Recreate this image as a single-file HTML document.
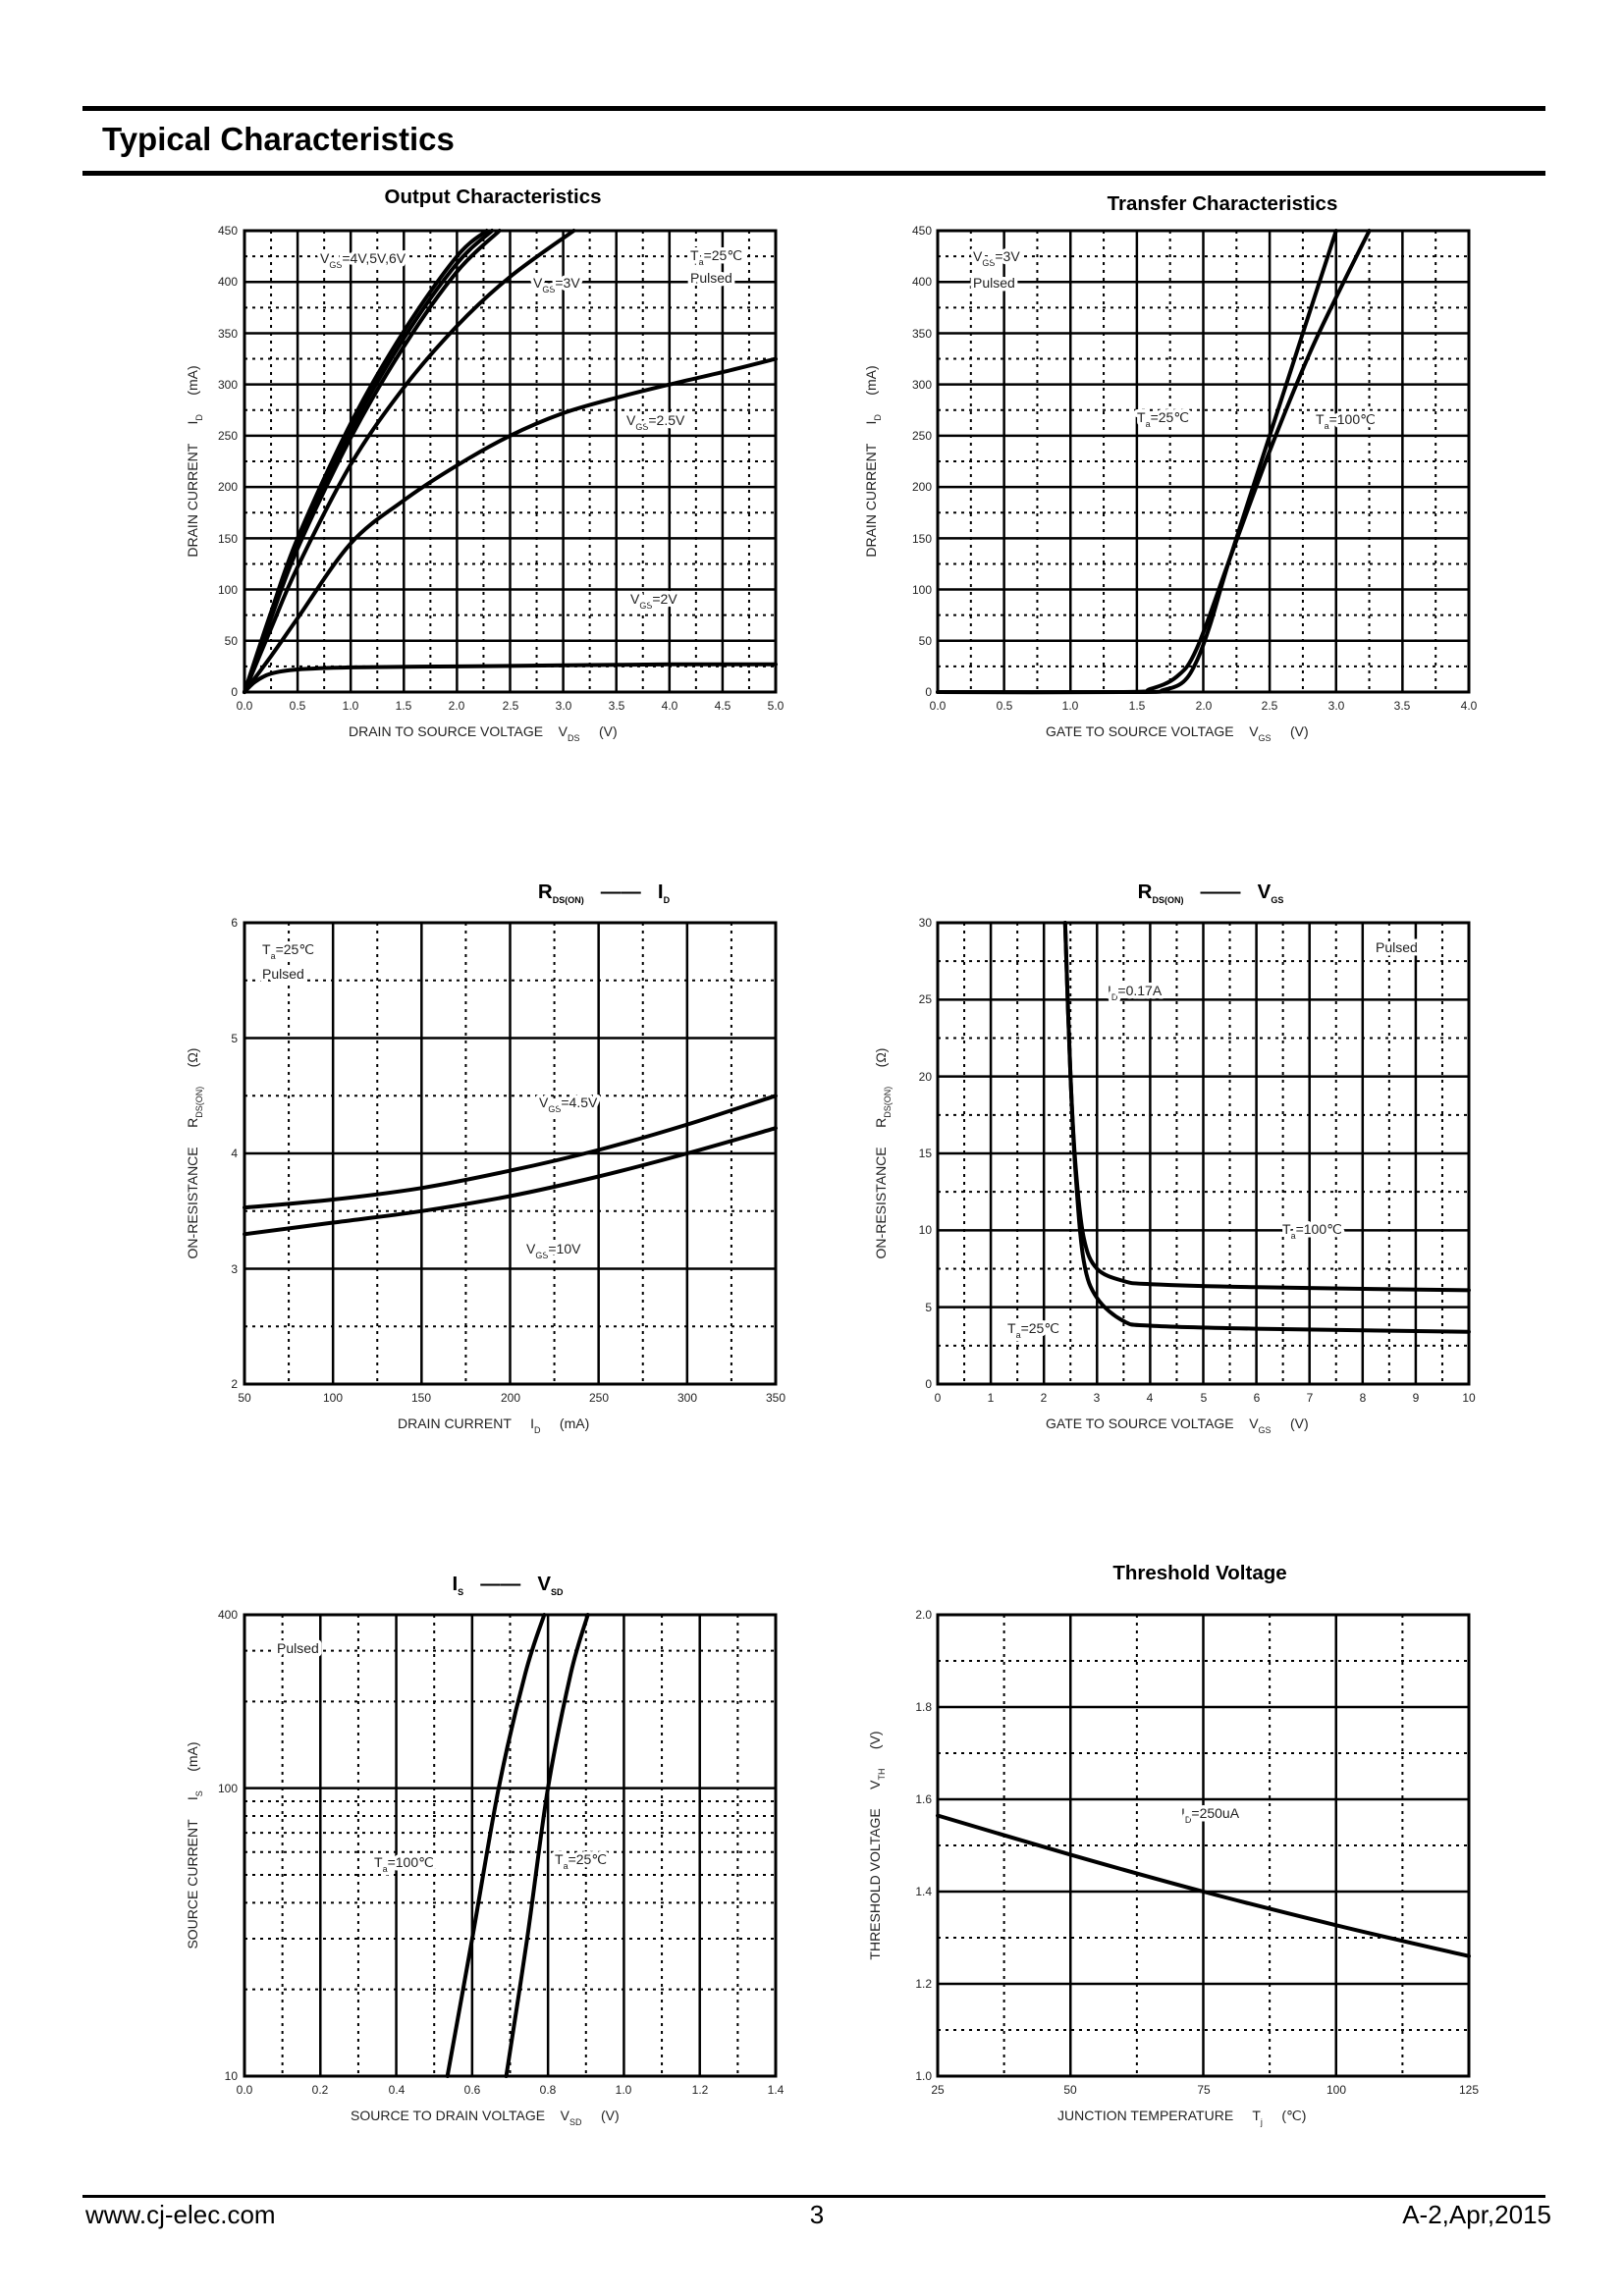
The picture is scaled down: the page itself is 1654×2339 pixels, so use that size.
<!DOCTYPE html>
<html><head><meta charset="utf-8"><style>
html,body{margin:0;padding:0;background:#fff;}
svg{display:block;font-family:"Liberation Sans",Arial,sans-serif;}
.t{font-size:12px;fill:#222;}
.ax{font-size:14px;fill:#222;white-space:pre;}
.lb{font-size:14px;fill:#222;stroke:#fff;stroke-width:7px;paint-order:stroke;stroke-linejoin:round;}
.ti{font-size:20.5px;font-weight:bold;fill:#000;white-space:pre;}
.s{font-size:9px;}
</style></head><body>
<svg id="s" width="1654" height="2339" viewBox="0 0 1654 2339" xmlns="http://www.w3.org/2000/svg">
<rect width="1654" height="2339" fill="#fff"/>
<rect x="84" y="108" width="1490" height="5" fill="#000"/>
<rect x="84" y="174" width="1490" height="5" fill="#000"/>
<text x="104" y="153" style="font-size:33px;font-weight:bold">Typical Characteristics</text>
<rect x="84" y="2236" width="1490" height="3" fill="#000"/>
<text x="87" y="2265" style="font-size:26px">www.cj-elec.com</text>
<text x="832" y="2265" style="font-size:26px" text-anchor="middle">3</text>
<text x="1580" y="2265" style="font-size:26px" text-anchor="end">A-2,Apr,2015</text>
<g id="grids"></g>
<g id="curves" fill="none" stroke="#000" stroke-width="4" stroke-linejoin="round" stroke-linecap="round"></g>

<!-- Titles -->
<text class="ti" x="502" y="207" text-anchor="middle">Output Characteristics</text>
<text class="ti" x="1245" y="214" text-anchor="middle">Transfer Characteristics</text>
<text class="ti" x="615" y="915" text-anchor="middle">R<tspan class="s" dy="5">DS(ON)</tspan><tspan dy="-5">   ——   I</tspan><tspan class="s" dy="5">D</tspan></text>
<text class="ti" x="1233" y="915" text-anchor="middle">R<tspan class="s" dy="5">DS(ON)</tspan><tspan dy="-5">   ——   V</tspan><tspan class="s" dy="5">GS</tspan></text>
<text class="ti" x="517" y="1620" text-anchor="middle">I<tspan class="s" dy="5">S</tspan><tspan dy="-5">   ——   V</tspan><tspan class="s" dy="5">SD</tspan></text>
<text class="ti" x="1222" y="1609" text-anchor="middle">Threshold Voltage</text>

<!-- Chart 1 ticks -->
<g class="t" text-anchor="end">
<text x="242" y="239">450</text><text x="242" y="291">400</text><text x="242" y="344">350</text><text x="242" y="396">300</text><text x="242" y="448">250</text><text x="242" y="500">200</text><text x="242" y="553">150</text><text x="242" y="605">100</text><text x="242" y="657">50</text><text x="242" y="709">0</text>
</g>
<g class="t" text-anchor="middle">
<text x="249" y="723">0.0</text><text x="303" y="723">0.5</text><text x="357" y="723">1.0</text><text x="411" y="723">1.5</text><text x="465" y="723">2.0</text><text x="520" y="723">2.5</text><text x="574" y="723">3.0</text><text x="628" y="723">3.5</text><text x="682" y="723">4.0</text><text x="736" y="723">4.5</text><text x="790" y="723">5.0</text>
</g>
<text class="ax" x="355" y="750">DRAIN TO SOURCE VOLTAGE    V<tspan class="s" dy="5">DS</tspan><tspan dy="-5">     (V)</tspan></text>
<text class="ax" transform="translate(201,470) rotate(-90)" text-anchor="middle">DRAIN CURRENT     I<tspan class="s" dy="5">D</tspan><tspan dy="-5">     (mA)</tspan></text>
<text class="lb" x="326" y="268">V<tspan class="s" dy="5">GS</tspan><tspan dy="-5">=4V,5V,6V</tspan></text>
<text class="lb" x="543" y="293">V<tspan class="s" dy="5">GS</tspan><tspan dy="-5">=3V</tspan></text>
<text class="lb" x="703" y="265">T<tspan class="s" dy="5">a</tspan><tspan dy="-5">=25℃</tspan></text>
<text class="lb" x="703" y="288">Pulsed</text>
<text class="lb" x="638" y="433">V<tspan class="s" dy="5">GS</tspan><tspan dy="-5">=2.5V</tspan></text>
<text class="lb" x="642" y="615">V<tspan class="s" dy="5">GS</tspan><tspan dy="-5">=2V</tspan></text>

<!-- Chart 2 ticks -->
<g class="t" text-anchor="end">
<text x="949" y="239">450</text><text x="949" y="291">400</text><text x="949" y="344">350</text><text x="949" y="396">300</text><text x="949" y="448">250</text><text x="949" y="500">200</text><text x="949" y="553">150</text><text x="949" y="605">100</text><text x="949" y="657">50</text><text x="949" y="709">0</text>
</g>
<g class="t" text-anchor="middle">
<text x="955" y="723">0.0</text><text x="1023" y="723">0.5</text><text x="1090" y="723">1.0</text><text x="1158" y="723">1.5</text><text x="1226" y="723">2.0</text><text x="1293" y="723">2.5</text><text x="1361" y="723">3.0</text><text x="1428" y="723">3.5</text><text x="1496" y="723">4.0</text>
</g>
<text class="ax" x="1065" y="750">GATE TO SOURCE VOLTAGE    V<tspan class="s" dy="5">GS</tspan><tspan dy="-5">     (V)</tspan></text>
<text class="ax" transform="translate(892,470) rotate(-90)" text-anchor="middle">DRAIN CURRENT     I<tspan class="s" dy="5">D</tspan><tspan dy="-5">     (mA)</tspan></text>
<text class="lb" x="991" y="266">V<tspan class="s" dy="5">GS</tspan><tspan dy="-5">=3V</tspan></text>
<text class="lb" x="991" y="293">Pulsed</text>
<text class="lb" x="1158" y="430">T<tspan class="s" dy="5">a</tspan><tspan dy="-5">=25℃</tspan></text>
<text class="lb" x="1340" y="432">T<tspan class="s" dy="5">a</tspan><tspan dy="-5">=100℃</tspan></text>

<!-- Chart 3 ticks -->
<g class="t" text-anchor="end">
<text x="242" y="944">6</text><text x="242" y="1062">5</text><text x="242" y="1179">4</text><text x="242" y="1297">3</text><text x="242" y="1414">2</text>
</g>
<g class="t" text-anchor="middle">
<text x="249" y="1428">50</text><text x="339" y="1428">100</text><text x="429" y="1428">150</text><text x="520" y="1428">200</text><text x="610" y="1428">250</text><text x="700" y="1428">300</text><text x="790" y="1428">350</text>
</g>
<text class="ax" x="405" y="1455">DRAIN CURRENT     I<tspan class="s" dy="5">D</tspan><tspan dy="-5">     (mA)</tspan></text>
<text class="ax" transform="translate(201,1175) rotate(-90)" text-anchor="middle">ON-RESISTANCE     R<tspan class="s" dy="5">DS(ON)</tspan><tspan dy="-5">     (Ω)</tspan></text>
<text class="lb" x="267" y="972">T<tspan class="s" dy="5">a</tspan><tspan dy="-5">=25℃</tspan></text>
<text class="lb" x="267" y="997">Pulsed</text>
<text class="lb" x="549" y="1128">V<tspan class="s" dy="5">GS</tspan><tspan dy="-5">=4.5V</tspan></text>
<text class="lb" x="536" y="1277">V<tspan class="s" dy="5">GS</tspan><tspan dy="-5">=10V</tspan></text>

<!-- Chart 4 ticks -->
<g class="t" text-anchor="end">
<text x="949" y="944">30</text><text x="949" y="1022">25</text><text x="949" y="1101">20</text><text x="949" y="1179">15</text><text x="949" y="1257">10</text><text x="949" y="1336">5</text><text x="949" y="1414">0</text>
</g>
<g class="t" text-anchor="middle">
<text x="955" y="1428">0</text><text x="1009" y="1428">1</text><text x="1063" y="1428">2</text><text x="1117" y="1428">3</text><text x="1171" y="1428">4</text><text x="1226" y="1428">5</text><text x="1280" y="1428">6</text><text x="1334" y="1428">7</text><text x="1388" y="1428">8</text><text x="1442" y="1428">9</text><text x="1496" y="1428">10</text>
</g>
<text class="ax" x="1065" y="1455">GATE TO SOURCE VOLTAGE    V<tspan class="s" dy="5">GS</tspan><tspan dy="-5">     (V)</tspan></text>
<text class="ax" transform="translate(902,1175) rotate(-90)" text-anchor="middle">ON-RESISTANCE     R<tspan class="s" dy="5">DS(ON)</tspan><tspan dy="-5">     (Ω)</tspan></text>
<text class="lb" x="1401" y="970">Pulsed</text>
<text class="lb" x="1128" y="1014">I<tspan class="s" dy="5">D</tspan><tspan dy="-5">=0.17A</tspan></text>
<text class="lb" x="1306" y="1257">T<tspan class="s" dy="5">a</tspan><tspan dy="-5">=100℃</tspan></text>
<text class="lb" x="1026" y="1358">T<tspan class="s" dy="5">a</tspan><tspan dy="-5">=25℃</tspan></text>

<!-- Chart 5 ticks -->
<g class="t" text-anchor="end">
<text x="242" y="1649">400</text><text x="242" y="1826">100</text><text x="242" y="2119">10</text>
</g>
<g class="t" text-anchor="middle">
<text x="249" y="2133">0.0</text><text x="326" y="2133">0.2</text><text x="404" y="2133">0.4</text><text x="481" y="2133">0.6</text><text x="558" y="2133">0.8</text><text x="635" y="2133">1.0</text><text x="713" y="2133">1.2</text><text x="790" y="2133">1.4</text>
</g>
<text class="ax" x="357" y="2160">SOURCE TO DRAIN VOLTAGE    V<tspan class="s" dy="5">SD</tspan><tspan dy="-5">     (V)</tspan></text>
<text class="ax" transform="translate(201,1880) rotate(-90)" text-anchor="middle">SOURCE CURRENT     I<tspan class="s" dy="5">S</tspan><tspan dy="-5">     (mA)</tspan></text>
<text class="lb" x="282" y="1684">Pulsed</text>
<text class="lb" x="381" y="1902">T<tspan class="s" dy="5">a</tspan><tspan dy="-5">=100℃</tspan></text>
<text class="lb" x="565" y="1899">T<tspan class="s" dy="5">a</tspan><tspan dy="-5">=25℃</tspan></text>

<!-- Chart 6 ticks -->
<g class="t" text-anchor="end">
<text x="949" y="1649">2.0</text><text x="949" y="1743">1.8</text><text x="949" y="1837">1.6</text><text x="949" y="1931">1.4</text><text x="949" y="2025">1.2</text><text x="949" y="2119">1.0</text>
</g>
<g class="t" text-anchor="middle">
<text x="955" y="2133">25</text><text x="1090" y="2133">50</text><text x="1226" y="2133">75</text><text x="1361" y="2133">100</text><text x="1496" y="2133">125</text>
</g>
<text class="ax" x="1077" y="2160">JUNCTION TEMPERATURE     T<tspan class="s" dy="5">j</tspan><tspan dy="-5">     (℃)</tspan></text>
<text class="ax" transform="translate(896,1880) rotate(-90)" text-anchor="middle">THRESHOLD VOLTAGE     V<tspan class="s" dy="5">TH</tspan><tspan dy="-5">     (V)</tspan></text>
<text class="lb" x="1203" y="1852">I<tspan class="s" dy="5">D</tspan><tspan dy="-5">=250uA</tspan></text>
</svg>
<script>
(function(){
var NS="http://www.w3.org/2000/svg";
var G=document.getElementById("grids"),C=document.getElementById("curves");
function el(p,tag,a){var e=document.createElementNS(NS,tag);for(var k in a)e.setAttribute(k,a[k]);p.appendChild(e);return e;}
function line(x1,y1,x2,y2,dot){el(G,"line",{x1:x1,y1:y1,x2:x2,y2:y2,stroke:"#000","stroke-width":dot?2:2.5,"stroke-dasharray":dot?"3,5":"none"});}
function chart(c){
  c.X=function(v){return c.L+(v-c.x0)/(c.x1-c.x0)*(c.R-c.L);};
  c.Y=c.log?function(v){return c.B-(Math.log10(v)-Math.log10(c.y0))/(Math.log10(c.y1)-Math.log10(c.y0))*(c.B-c.T);}
          :function(v){return c.B-(v-c.y0)/(c.y1-c.y0)*(c.B-c.T);};
  var i;
  for(i=0;i<c.nx;i++){var v=c.x0+(i+0.5)*(c.x1-c.x0)/c.nx;line(c.X(v),c.T,c.X(v),c.B,1);}
  for(i=1;i<c.nx;i++){var v=c.x0+i*(c.x1-c.x0)/c.nx;line(c.X(v),c.T,c.X(v),c.B,0);}
  if(c.log){[20,30,40,50,60,70,80,90,200,300].forEach(function(v){line(c.L,c.Y(v),c.R,c.Y(v),1);});line(c.L,c.Y(100),c.R,c.Y(100),0);}
  else{
    for(i=0;i<c.ny;i++){var v=c.y0+(i+0.5)*(c.y1-c.y0)/c.ny;line(c.L,c.Y(v),c.R,c.Y(v),1);}
    for(i=1;i<c.ny;i++){var v=c.y0+i*(c.y1-c.y0)/c.ny;line(c.L,c.Y(v),c.R,c.Y(v),0);}
  }
  el(G,"rect",{x:c.L,y:c.T,width:c.R-c.L,height:c.B-c.T,fill:"none",stroke:"#000","stroke-width":3});
  return c;
}
function curve(c,pts,w){
  var p=pts.map(function(q){return [c.X(q[0]),c.Y(q[1])];});
  var d="M"+p[0][0].toFixed(1)+","+p[0][1].toFixed(1);
  for(var i=0;i<p.length-1;i++){
    var p0=p[i-1]||p[i],p1=p[i],p2=p[i+1],p3=p[i+2]||p2;
    var c1=[p1[0]+(p2[0]-p0[0])/6,p1[1]+(p2[1]-p0[1])/6],c2=[p2[0]-(p3[0]-p1[0])/6,p2[1]-(p3[1]-p1[1])/6];
    d+="C"+c1[0].toFixed(1)+","+c1[1].toFixed(1)+" "+c2[0].toFixed(1)+","+c2[1].toFixed(1)+" "+p2[0].toFixed(1)+","+p2[1].toFixed(1);
  }
  el(C,"path",{d:d,"stroke-width":w||4});
}
var c1=chart({L:249,R:790,T:235,B:705,x0:0,x1:5,y0:0,y1:450,nx:10,ny:9});
curve(c1,[[0,0],[0.1,10],[0.25,18],[0.5,22],[1,24],[2,25],[3,26],[4,27],[5,27]]);
curve(c1,[[0,0],[0.25,35],[0.5,72],[1,145],[1.5,187],[2,221],[2.5,250],[3,272],[3.5,287],[4,300],[4.5,312],[5,325]]);
curve(c1,[[0,0],[0.25,62],[0.5,122],[1,222],[1.5,297],[2,357],[2.5,405],[3.1,450]]);
curve(c1,[[0,0],[0.25,75],[0.5,145],[1,255],[1.5,345],[2,418],[2.33,450]]);
curve(c1,[[0,0],[0.25,78],[0.5,150],[1,262],[1.5,352],[2,425],[2.28,450]]);
curve(c1,[[0,0],[0.25,72],[0.5,140],[1,248],[1.5,337],[2,410],[2.4,450]]);
var c2=chart({L:955,R:1496,T:235,B:705,x0:0,x1:4,y0:0,y1:450,nx:8,ny:9});
curve(c2,[[0,0],[1.5,0],[1.7,2],[1.85,10],[1.95,30],[2.05,65],[2.2,130],[2.5,250],[2.75,350],[3.0,450]]);
curve(c2,[[0,0],[1.4,0],[1.6,3],[1.8,15],[1.95,42],[2.2,130],[2.5,235],[2.8,330],[3.05,398],[3.25,450]]);
var c3=chart({L:249,R:790,T:940,B:1410,x0:50,x1:350,y0:2,y1:6,nx:6,ny:4});
curve(c3,[[50,3.53],[100,3.6],[150,3.7],[200,3.85],[250,4.03],[300,4.25],[350,4.5]]);
curve(c3,[[50,3.3],[100,3.4],[150,3.5],[200,3.63],[250,3.8],[300,4.0],[350,4.22]]);
var c4=chart({L:955,R:1496,T:940,B:1410,x0:0,x1:10,y0:0,y1:30,nx:10,ny:6});
curve(c4,[[2.4,30],[2.5,20],[2.6,13.5],[2.75,8],[3,5.6],[3.5,4.1],[4,3.8],[6,3.6],[10,3.4]]);
curve(c4,[[2.4,30],[2.5,20],[2.6,14],[2.75,9.5],[3,7.5],[3.5,6.7],[4,6.5],[6,6.3],[10,6.1]]);
var c5=chart({L:249,R:790,T:1645,B:2115,x0:0,x1:1.4,y0:10,y1:400,nx:7,ny:0,log:true});
curve(c5,[[0.535,10],[0.6,30],[0.67,100],[0.74,250],[0.79,400]]);
curve(c5,[[0.69,10],[0.745,30],[0.80,100],[0.86,250],[0.905,400]]);
var c6=chart({L:955,R:1496,T:1645,B:2115,x0:25,x1:125,y0:1,y1:2,nx:4,ny:5});
curve(c6,[[25,1.565],[50,1.48],[75,1.4],[100,1.327],[125,1.26]]);
})();
</script>
</body></html>
